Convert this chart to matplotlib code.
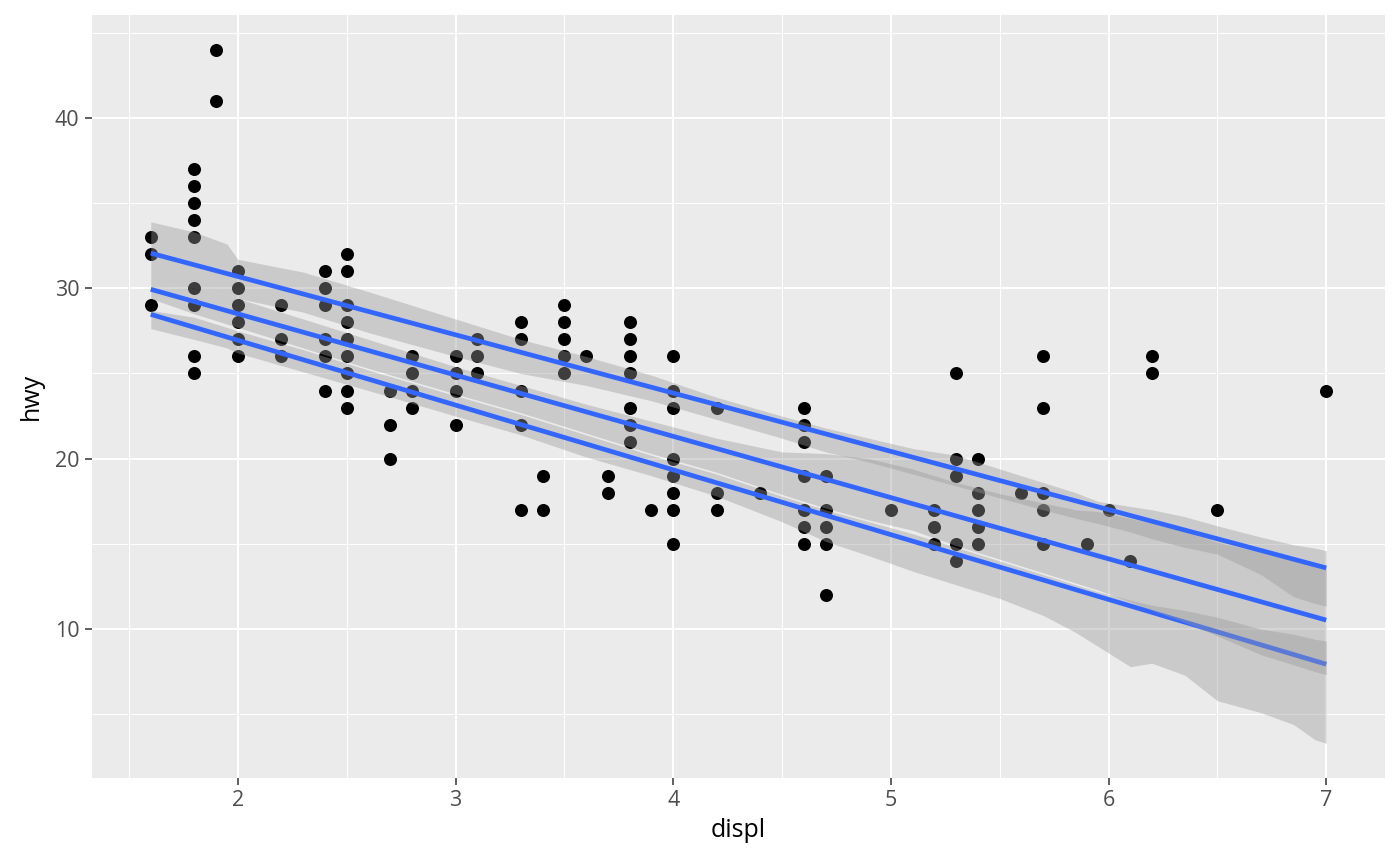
import numpy as np
import matplotlib
matplotlib.use("Agg")
import matplotlib.pyplot as plt

# Datos: puntos unicos (displ, hwy) del conjunto mpg
displ = ([1.6] * 3 + [1.8] * 9 + [1.9] * 2 + [2.0] * 6 + [2.2] * 3 + [2.4] * 6
         + [2.5] * 9 + [2.7] * 3 + [2.8] * 4 + [3.0] * 4 + [3.1] * 3 + [3.3] * 5
         + [3.4] * 2 + [3.5] * 5 + [3.6] + [3.7] * 2 + [3.8] * 7 + [3.9]
         + [4.0] * 8 + [4.2] * 3 + [4.4] + [4.6] * 7 + [4.7] * 5 + [5.0]
         + [5.2] * 3 + [5.3] * 5 + [5.4] * 5 + [5.6] + [5.7] * 5 + [5.9]
         + [6.0] + [6.1] + [6.2] * 2 + [6.5] + [7.0])
hwy = [33, 32, 29,
       37, 36, 35, 34, 33, 30, 29, 26, 25,
       44, 41,
       31, 30, 29, 28, 27, 26,
       29, 27, 26,
       31, 30, 29, 27, 26, 24,
       32, 31, 29, 28, 27, 26, 25, 24, 23,
       24, 22, 20,
       26, 25, 24, 23,
       26, 25, 24, 22,
       27, 26, 25,
       28, 27, 24, 22, 17,
       19, 17,
       29, 28, 27, 26, 25,
       26,
       19, 18,
       28, 27, 26, 25, 23, 22, 21,
       17,
       26, 24, 23, 20, 19, 18, 17, 15,
       23, 18, 17,
       18,
       23, 22, 21, 19, 17, 16, 15,
       19, 17, 16, 15, 12,
       17,
       17, 16, 15,
       25, 20, 19, 15, 14,
       20, 18, 17, 16, 15,
       18,
       26, 23, 18, 17, 15,
       15,
       17,
       14,
       26, 25,
       17,
       24]

# Rectas de regresion por cuantiles (valores en los extremos)
fit_x = [1.6, 7.0]
fit_low = [28.47, 7.94]
fit_mid = [29.94, 10.53]
fit_up = [32.06, 13.59]

# Bandas de confianza
rib_x = [1.6, 1.8, 1.95, 2.0, 2.3, 2.6, 3.0, 3.3, 3.6, 3.9, 4.2, 4.5, 4.7, 4.9,
         5.1, 5.3, 5.5, 5.7, 5.85, 5.95, 6.1, 6.2, 6.35, 6.5, 6.7, 6.85, 6.95, 7.0]
up_max = [33.9, 33.3, 32.6, 31.7, 30.95, 29.8, 28.2, 27.0, 26.0, 24.9, 23.6, 22.5, 21.8, 21.2,
          20.6, 20.2, 19.4, 18.6, 18.0, 17.5, 17.2, 17.0, 16.6, 16.06, 15.4, 14.95, 14.75, 14.6]
up_min = [30.4, 30.0, 29.6, 29.4, 28.6, 27.4, 26.0, 25.0, 24.3, 23.4, 22.3, 21.2, 20.4, 19.8,
          19.1, 18.4, 17.7, 17.0, 16.5, 16.2, 15.7, 15.3, 14.8, 14.4, 13.2, 11.9, 11.5, 11.35]
mid_max = [30.4, 30.0, 29.6, 29.4, 28.2, 27.0, 25.4, 24.3, 23.2, 22.2, 21.2, 20.4, 20.3, 20.0,
           19.4, 18.6, 17.95, 17.4, 17.0, 16.9, 16.5, 16.2, 15.7, 15.1, 14.5, 14.0, 13.7, 13.6]
mid_min = [29.4, 28.5, 27.9, 27.7, 26.5, 25.3, 23.8, 22.7, 21.5, 20.3, 19.2, 17.9, 17.1, 16.4,
           15.8, 14.9, 14.1, 13.3, 12.7, 12.3, 11.6, 11.1, 10.4, 9.6, 8.5, 7.9, 7.5, 7.33]
low_max = [28.7, 28.3, 27.7, 27.5, 26.4, 25.2, 23.7, 22.6, 21.4, 20.2, 19.1, 17.8, 17.0, 16.3,
           15.6, 14.8, 14.0, 13.2, 12.6, 12.2, 11.7, 11.4, 11.1, 10.7, 10.0, 9.7, 9.4, 9.3]
low_min = [27.63, 27.0, 26.5, 26.2, 25.1, 24.0, 22.5, 21.4, 20.1, 19.0, 17.8, 16.3, 15.15, 14.3,
           13.4, 12.6, 11.8, 10.8, 9.8, 9.0, 7.8, 8.0, 7.3, 5.8, 5.1, 4.4, 3.5, 3.3]

plt.rcParams['font.family'] = ['Open Sans', 'DejaVu Sans']

fig = plt.figure(figsize=(14, 8.66), dpi=100)
ax = fig.add_axes([92 / 1400, 1 - 778 / 866, (1385 - 92) / 1400, (778 - 15) / 866])
ax.set_facecolor('#EBEBEB')
for s in ax.spines.values():
    s.set_visible(False)

# Puntos
ax.scatter(displ, hwy, s=88, color='black', linewidths=0, zorder=2)

# Bandas y rectas, en el orden de ggplot (grupo por grupo)
grupos = [(low_min, low_max, fit_low), (mid_min, mid_max, fit_mid), (up_min, up_max, fit_up)]
z = 3
for lo, hi, fit in grupos:
    ax.fill_between(rib_x, lo, hi, color='#999999', alpha=0.4, linewidth=0, zorder=z)
    ax.plot(fit_x, fit, color='#3366FF', linewidth=3.4, solid_capstyle='butt', zorder=z + 0.5)
    z += 1

# Limites con expansion del 5%
xs = np.array(displ, dtype=float)
ymin = min(min(hwy), min(low_min))
ymax = max(max(hwy), max(up_max))
dx = 0.05 * (xs.max() - xs.min())
dy = 0.05 * (ymax - ymin)
ax.set_xlim(xs.min() - dx, xs.max() + dx)
ax.set_ylim(ymin - dy, ymax + dy)

# Rejilla
ax.set_xticks([2, 3, 4, 5, 6, 7])
ax.set_yticks([10, 20, 30, 40])
ax.set_xticks(np.arange(1.5, 7.3, 1.0), minor=True)
ax.set_yticks([5, 15, 25, 35, 45], minor=True)
ax.grid(which='major', color='white', linewidth=1.45, zorder=1)
ax.grid(which='minor', color='white', linewidth=0.72, zorder=1)
ax.set_axisbelow(True)

ax.tick_params(which='major', length=5, width=1.1, color='#333333',
               labelsize=15.5, labelcolor='#4D4D4D', pad=4)
ax.tick_params(which='minor', length=0)

ax.set_xlabel('displ', fontsize=18, color='black', labelpad=5)
ax.set_ylabel('hwy', fontsize=18, color='black', labelpad=8)

fig.savefig('out.png', dpi=100)
